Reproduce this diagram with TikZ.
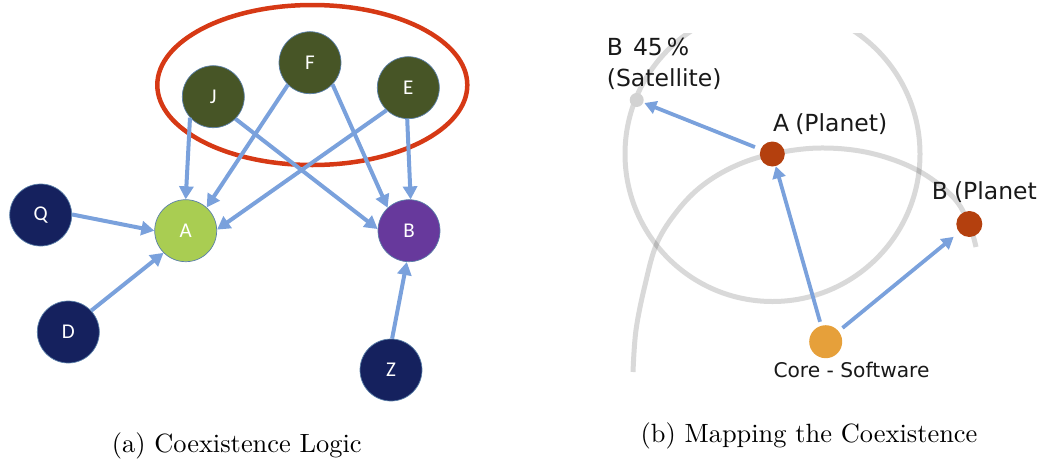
\documentclass[tikz,border=0pt]{standalone}
\usepackage{fontspec}
\usetikzlibrary{arrows.meta}
\newfontfamily\nodefont{Carlito}
\newfontfamily\labfont{DejaVu Sans}
\definecolor{dkgreen}{HTML}{475526}
\definecolor{navy}{HTML}{15215E}
\definecolor{lime}{HTML}{A9CD52}
\definecolor{purp}{HTML}{67399C}
\definecolor{ringred}{HTML}{D63915}
\definecolor{arrblue}{HTML}{7AA1DC}
\definecolor{nodeedge}{HTML}{5A7FA8}
\definecolor{planet}{HTML}{B4400E}
\definecolor{coreor}{HTML}{E6A03A}
\definecolor{satgray}{HTML}{D2D2D2}
\begin{document}
\begin{tikzpicture}[x=1pt,y=-1pt,
  gnode/.style={circle, minimum size=62pt, inner sep=0pt, draw=nodeedge, line width=0.7pt,
    text=white, font=\nodefont\fontsize{21}{23}\selectfont},
  arr/.style={draw=arrblue, line width=4pt, -{Triangle[length=13pt,width=14pt]}},
  arrb/.style={draw=arrblue, line width=3.8pt, -{Triangle[length=12pt,width=13pt]}},
  orbit/.style={draw=black, draw opacity=0.15, line width=5pt},
  dot/.style={circle, inner sep=0pt, draw=none},
  lab/.style={inner sep=0pt, font=\labfont\fontsize{23.5}{26}\selectfont, text=black!90},
  captext/.style={inner sep=0pt, anchor=base}
]
\useasboundingbox (0,0) rectangle (1054,461);

% ---------- (a) Coexistence Logic ----------
\draw[ringred, line width=4.5pt] (312.3,85) ellipse [x radius=155, y radius=80];

\node[gnode, fill=dkgreen] (J) at (213.3,96.7) {J};
\node[gnode, fill=dkgreen] (F) at (310,62.7) {F};
\node[gnode, fill=dkgreen] (E) at (408.3,87.7) {E};
\node[gnode, fill=lime] (A) at (185.7,230.7) {A};
\node[gnode, fill=purp] (B) at (409,230.7) {B};
\node[gnode, fill=navy] (Q) at (40.7,215) {Q};
\node[gnode, fill=navy] (D) at (68.3,332) {D};
\node[gnode, fill=navy] (Z) at (391,370) {Z};

\draw[arr] (J.222) -- (A.90);
\draw[arr] (F.225) -- (A.48);
\draw[arr] (E.226) -- (A.2);
\draw[arr] (Q.1) -- (A.180);
\draw[arr] (D.43) -- (A.225);
\draw[arr] (J.315) -- (B.177);
\draw[arr] (F.316) -- (B.133);
\draw[arr] (E.268) -- (B.87);
\draw[arr] (Z.88) -- (B.266);

\node[captext] (capa) at (236.7,452) {\scalebox{2.64}{(a) Coexistence Logic}};

% ---------- (b) Mapping the Coexistence ----------
\begin{scope}
  \clip (600,33) rectangle (1054,461);
  \draw[orbit] (772.5,154) circle [radius=147.5];
\end{scope}
\draw[orbit] plot[smooth, tension=0.6] coordinates {(633,372) (636,330) (645,285) (657,243) (678,210) (703,185) (735,166) (772,154) (820,148) (870,153) (917,170) (953,197) (969,224) (976,247)};

\node[dot, fill=satgray, minimum size=14pt] (sat) at (636.7,100) {};
\node[dot, fill=planet, minimum size=25pt] (pA) at (772.3,154) {};
\node[dot, fill=planet, minimum size=26pt] (pB) at (969.3,224) {};
\node[dot, fill=coreor, minimum size=33pt] (core) at (825.7,341.7) {};

\draw[arrb, shorten <=6pt, shorten >=1pt] (pA) -- (sat);
\draw[arrb, shorten <=4pt] (core) -- (pA);
\draw[arrb, shorten <=5pt, shorten >=7pt] (core) -- (pB);

\node[lab, anchor=base west] (l1) at (606.7,55) {B\hspace{10pt}45\hspace{4pt}\%};
\node[lab, anchor=base west] (l2) at (606.7,86) {(Satellite)};
\node[lab, anchor=base west] (l3) at (773,131) {A\hspace{6pt}(Planet)};
\node[lab, anchor=base west] (l4) at (931.7,199) {B\hspace{6pt}(Planet};
\node[lab, anchor=base west, font=\labfont\fontsize{20.2}{22}\selectfont] (l5) at (773.3,377.7) {Core - Software};

\node[captext] (capb) at (809,442) {\scalebox{2.64}{(b) Mapping the Coexistence}};
\end{tikzpicture}
\end{document}
